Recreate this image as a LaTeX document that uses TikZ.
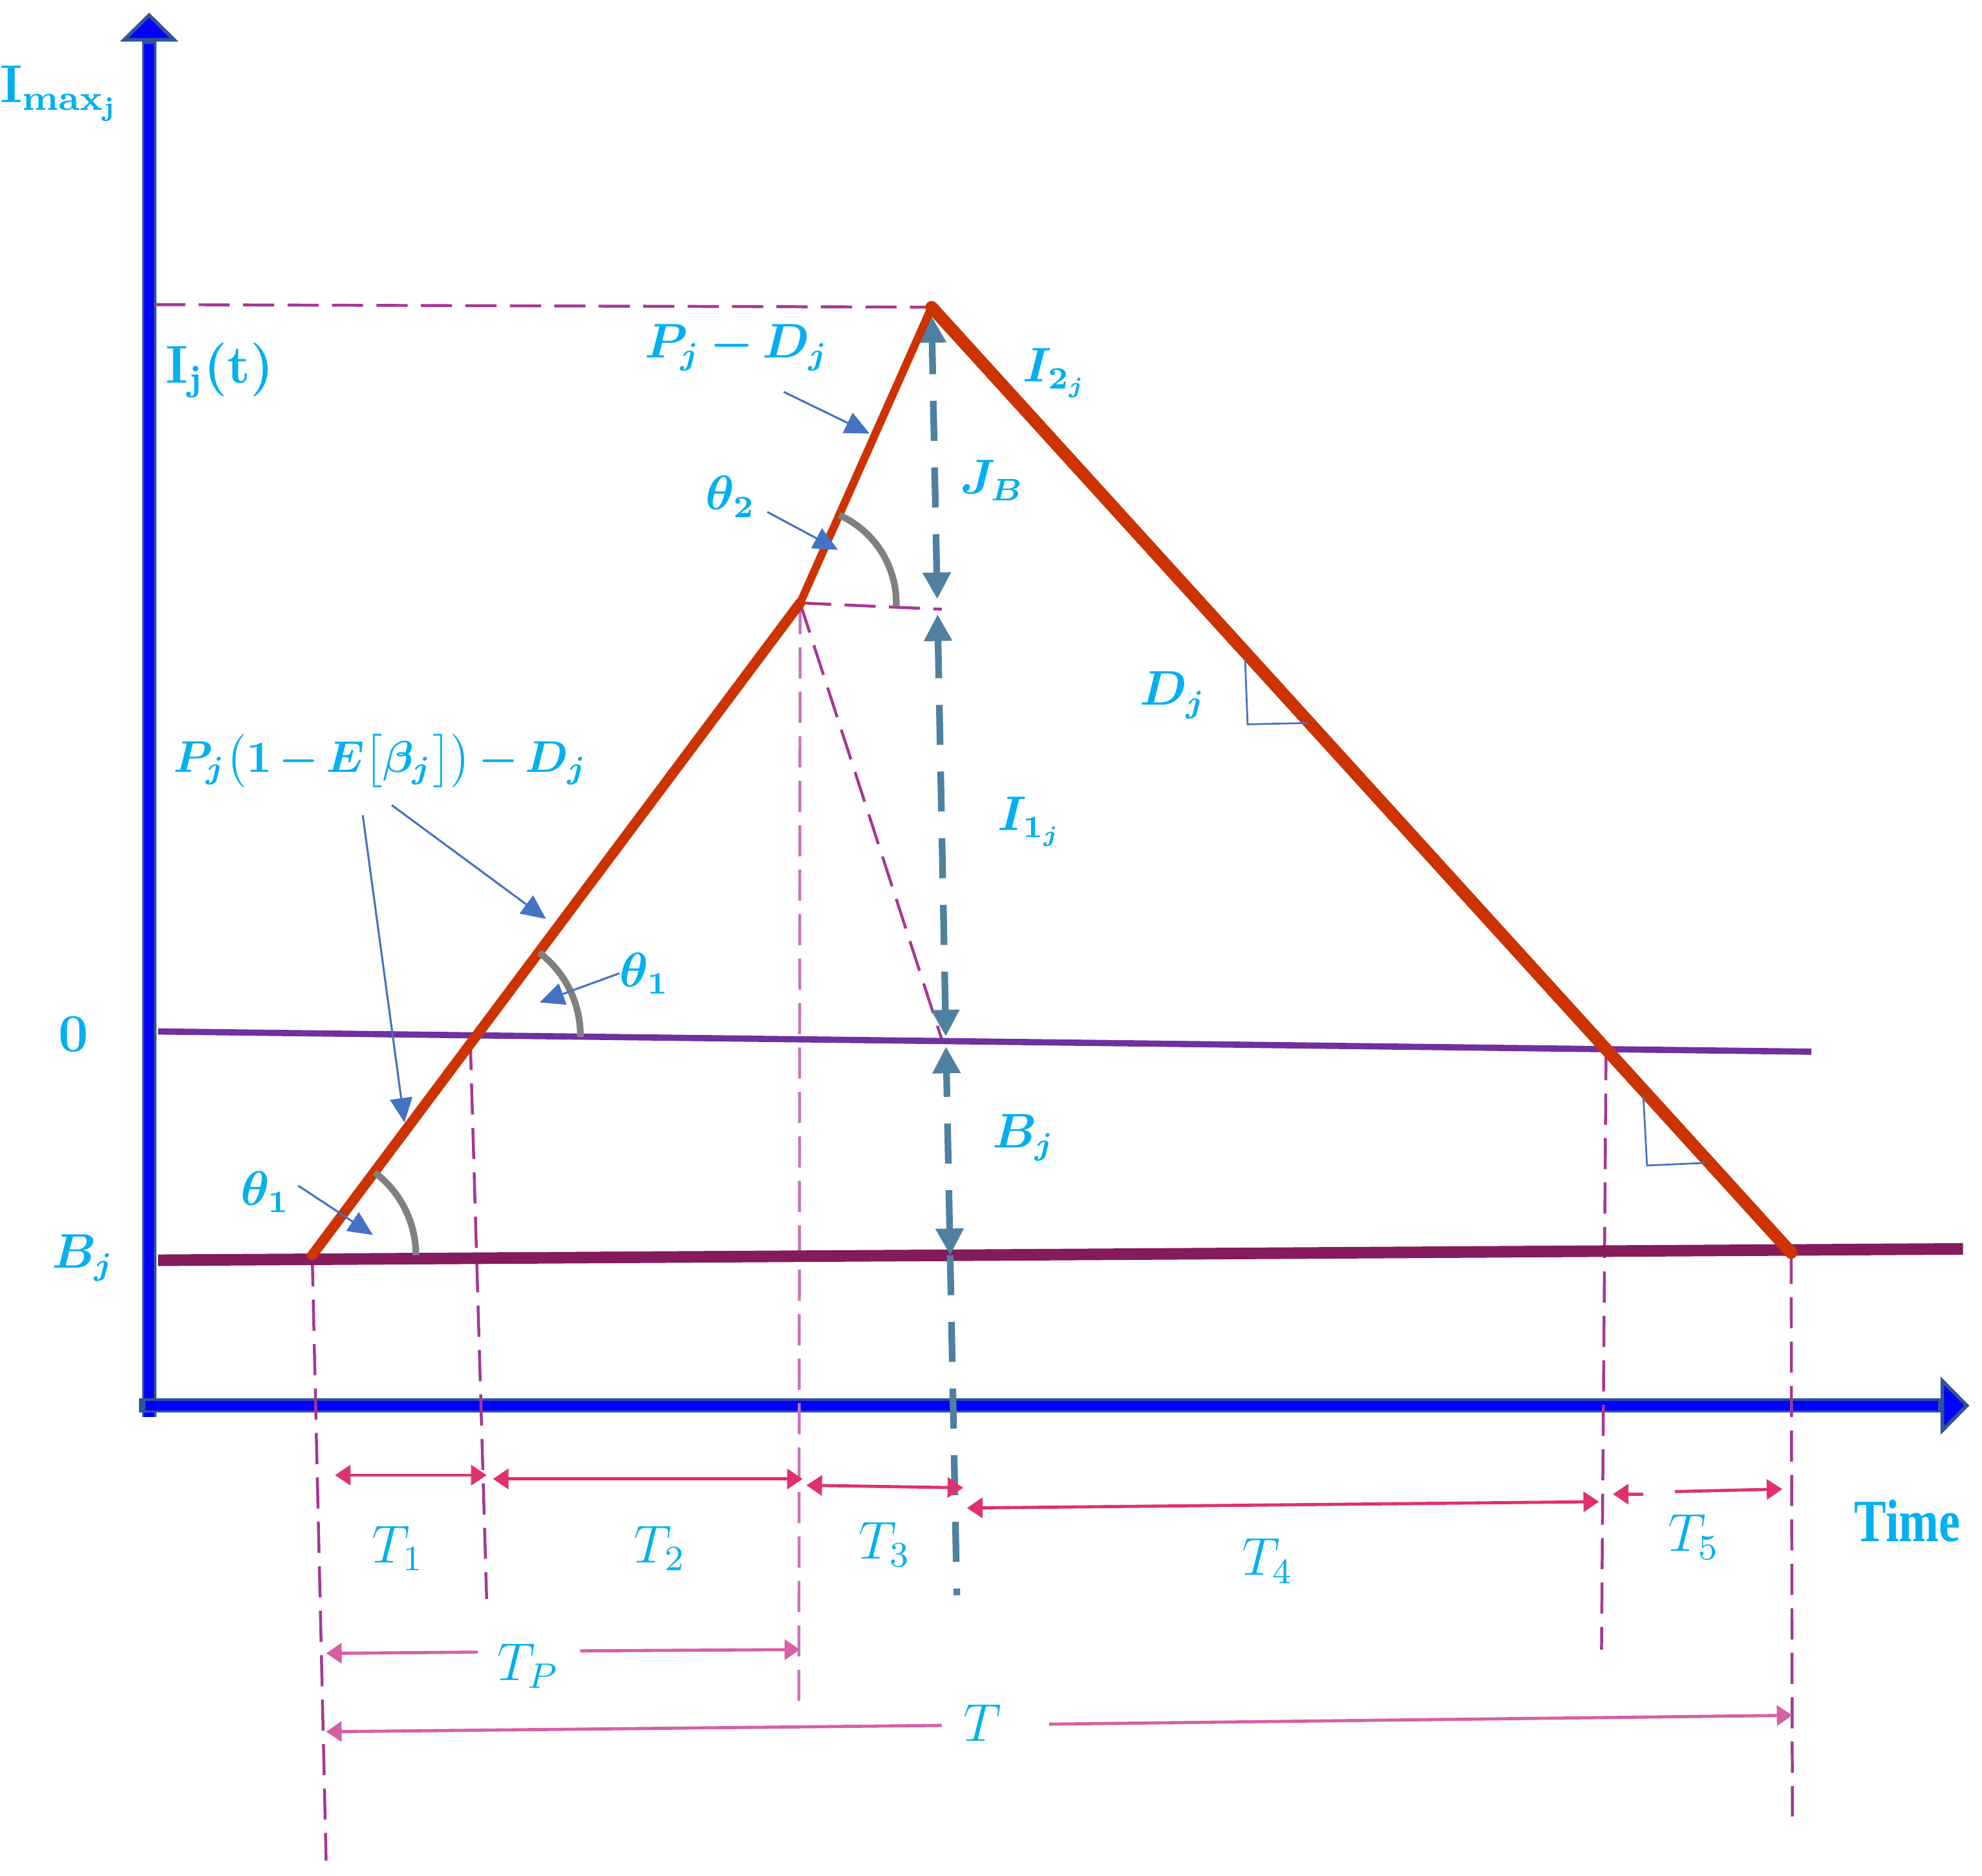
\documentclass[tikz,border=0pt]{standalone}
\usepackage{fontspec}
\newfontfamily\timesf{Liberation Serif}
\usetikzlibrary{arrows.meta,intersections,calc}
\definecolor{axblue}{RGB}{0,0,255}
\definecolor{axedge}{RGB}{47,85,151}
\definecolor{redline}{RGB}{204,51,0}
\definecolor{zeroline}{RGB}{112,48,160}
\definecolor{bjline}{RGB}{132,27,92}
\definecolor{magdash}{RGB}{165,55,150}
\definecolor{magdashl}{RGB}{200,115,190}
\definecolor{bgray}{RGB}{80,128,160}
\definecolor{dimpink}{RGB}{224,48,110}
\definecolor{dimpinkl}{RGB}{215,95,165}
\definecolor{lbl}{RGB}{0,176,240}
\definecolor{annot}{RGB}{68,114,196}
\definecolor{arcgray}{RGB}{128,128,128}
\begin{document}
\begin{tikzpicture}[x=0.01cm,y=-0.01cm,
  axisln/.style={line width=3.2pt,axedge},
  axisin/.style={line width=2.2pt,axblue},
  axtip/.style={-{Triangle[width=13pt,length=6.5pt,fill=axblue,line width=0.8pt]}},
  redln/.style={line width=#1,redline,line cap=round,line join=round},
  magd/.style={line width=0.65pt,magdash,dash pattern=on 7pt off 3pt},
  magdl/.style={line width=0.65pt,magdashl,dash pattern=on 7pt off 3pt},
  bgd/.style={line width=1.5pt,bgray,dash pattern=on 9pt off 6pt},
  bgarr/.style={bgd,{Triangle[width=6pt,length=6pt]}-{Triangle[width=6pt,length=6pt]}},
  dimarr/.style={line width=0.7pt,#1,{Triangle[width=4.5pt,length=3.5pt]}-{Triangle[width=4.5pt,length=3.5pt]}},
  dimhalfl/.style={line width=0.7pt,#1,{Triangle[width=4.5pt,length=3.5pt]}-},
  dimhalfr/.style={line width=0.7pt,#1,-{Triangle[width=4.5pt,length=3.5pt]}},
  annarr/.style={line width=0.45pt,annot,-{Triangle[width=5pt,length=5.5pt]}},
  arcst/.style={line width=1.5pt,arcgray},
  rtri/.style={line width=0.4pt,annot},
  lab/.style={text=lbl,font=\fontsize{10.5}{13}\selectfont\boldmath\bfseries,inner sep=0pt},
  labT/.style={text=lbl,font=\fontsize{11.5}{14}\selectfont,inner sep=0pt},
]
\useasboundingbox (0,0) rectangle (1568,1484);

% key points
\coordinate (S) at (247,993);
\coordinate (K) at (633,477);
\coordinate (P) at (737,243);
\coordinate (E) at (1417,991);
\coordinate (Z1) at (125,816);
\coordinate (Z2) at (1433,832);
\coordinate (B1) at (125,997);
\coordinate (B2) at (1553,988);
\path[name path=up] (S) -- (K);
\path[name path=dn] (P) -- (E);
\path[name path=zero] (Z1) -- (Z2);
\path[name intersections={of=up and zero,by=A}];
\path[name intersections={of=dn and zero,by=Bx}];

% axes
\coordinate (Yb) at (118,1121);
\coordinate (Yt) at (118,10);
\coordinate (Xl) at (110,1112);
\coordinate (Xr) at (1558,1112);
\draw[axisln,axtip] (Yb) -- (Yt);
\draw[axisin,shorten >=7pt] (Yb) -- (Yt);
\draw[axisln,axtip] (Xl) -- (Xr);
\draw[axisin,shorten >=7pt,shorten <=1.5pt] (Xl) -- (Xr);

% Imax dashed
\coordinate (Im) at (122,241);
\draw[magd] (Im) -- (P);

% vertical magenta dashed lines
\coordinate (V1b) at (258,1472);
\coordinate (V2t) at (372,822);
\coordinate (V2b) at (385,1265);
\coordinate (V3b) at (632,1350);
\coordinate (V4b) at (1267,1305);
\coordinate (V5b) at (1418,1437);
\draw[magd] (S) -- (V1b);
\draw[magd] (V2t) -- (V2b);
\draw[magdl] (K) -- (V3b);
\draw[magd] (Bx) -- (V4b);
\draw[magd] (E) -- (V5b);

% kink dashed lines
\coordinate (Kh) at (745,482);
\coordinate (Kd) at (745,822);
\draw[magd] (K) -- (Kh);
\draw[magd] (K) -- (Kd);

% horizontal levels
\draw[line width=1.4pt,zeroline] (Z1) -- (Z2);
\draw[line width=2.6pt,bjline] (B1) -- (B2);

% blue-gray vertical dashed arrows
\coordinate (J1) at (737,250);
\coordinate (J2) at (741.5,474);
\coordinate (I1) at (741.7,486);
\coordinate (I2) at (748.3,820);
\coordinate (Q1) at (748.4,828);
\coordinate (Q2) at (751.7,993);
\coordinate (Q3) at (757,1262);
\draw[bgarr] (J2) -- (J1);
\draw[bgarr] (I2) -- (I1);
\draw[bgarr] (Q2) -- (Q1);
\draw[bgd] (Q2) -- (Q3);

% red inventory curve
\draw[redln=2.3pt] (S) -- (K);
\draw[redln=1.8pt] (K) -- (P);
\draw[redln=2.8pt] (P) -- (E);

% angle arcs
\draw[arcst] ($(K)+(66:0.76cm)$) arc[start angle=66,end angle=-2,radius=0.76cm];
\draw[arcst] ($(A)+(53:0.82cm)$) arc[start angle=53,end angle=-1,radius=0.82cm];
\draw[arcst] ($(S)+(53:0.82cm)$) arc[start angle=53,end angle=0,radius=0.82cm];

% right-angle marks
\coordinate (R1a) at (985,521);
\coordinate (R1b) at (987,573);
\coordinate (R1c) at (1034,572);
\draw[rtri] (R1a) -- (R1b) -- (R1c);
\coordinate (R2a) at (1300,866);
\coordinate (R2b) at (1303,922);
\coordinate (R2c) at (1349,920);
\draw[rtri] (R2a) -- (R2b) -- (R2c);

% annotation arrows
\coordinate (a1s) at (620,310); \coordinate (a1e) at (688,343);
\coordinate (a2s) at (607,405); \coordinate (a2e) at (663,435);
\coordinate (a3s) at (310,637); \coordinate (a3e) at (432,727);
\coordinate (a4s) at (287,645); \coordinate (a4e) at (320,888);
\coordinate (a5s) at (490,770); \coordinate (a5e) at (427,793);
\coordinate (a6s) at (236,938); \coordinate (a6e) at (295,977);
\draw[annarr] (a1s) -- (a1e);
\draw[annarr] (a2s) -- (a2e);
\draw[annarr] (a3s) -- (a3e);
\draw[annarr] (a4s) -- (a4e);
\draw[annarr] (a5s) -- (a5e);
\draw[annarr] (a6s) -- (a6e);

% dimension arrows
\coordinate (d1a) at (265,1167); \coordinate (d1b) at (385,1167);
\coordinate (d2a) at (390,1170); \coordinate (d2b) at (635,1170);
\coordinate (d3a) at (638,1175); \coordinate (d3b) at (762,1177);
\coordinate (d4a) at (765,1193); \coordinate (d4b) at (1265,1188);
\draw[dimarr=dimpink] (d1a) -- (d1b);
\draw[dimarr=dimpink] (d2a) -- (d2b);
\draw[dimarr=dimpink] (d3a) -- (d3b);
\draw[dimarr=dimpink] (d4a) -- (d4b);
\coordinate (d5a) at (1276,1182); \coordinate (d5g1) at (1300,1182);
\coordinate (d5g2) at (1325,1180); \coordinate (d5b) at (1410,1178);
\draw[dimhalfl=dimpink] (d5a) -- (d5g1);
\draw[dimhalfr=dimpink] (d5g2) -- (d5b);
\coordinate (dpa) at (258,1308); \coordinate (dpg1) at (378,1307);
\coordinate (dpg2) at (459,1306); \coordinate (dpb) at (633,1305);
\draw[dimhalfl=dimpinkl] (dpa) -- (dpg1);
\draw[dimhalfr=dimpinkl] (dpg2) -- (dpb);
\coordinate (dta) at (258,1370); \coordinate (dtg1) at (745,1365);
\coordinate (dtg2) at (830,1364); \coordinate (dtb) at (1418,1357);
\draw[dimhalfl=dimpinkl] (dta) -- (dtg1);
\draw[dimhalfr=dimpinkl] (dtg2) -- (dtb);

% labels
\node[lab] (lImax) at (47,74) {\fontsize{12}{14}\selectfont I$_{\mathbf{max}_{\mathbf{j}}}$};
\node[lab] (lIjt) at (174,293) {\fontsize{12}{14}\selectfont I$_{\mathbf{j}}$(t)};
\node[lab] (lzero) at (58,818) {\fontsize{12}{14}\selectfont 0};
\node[lab] (lBjL) at (66,995) {$B_j$};
\node[lab] (lPD) at (583,275) {$\medmuskip=3mu P_j-D_j$};
\node[lab] (lth2) at (578,393) {$\theta_2$};
\node[lab] (lJB) at (785,380) {$J_B$};
\node[lab] (lI2) at (835,295) {$I_{2_j}$};
\node[lab] (lDj) at (928,550) {$D_j$};
\node[lab] (lI1) at (815,650) {$I_{1_j}$};
\node[lab] (lBjM) at (810,900) {$B_j$};
\node[lab,font=\fontsize{10}{12}\selectfont\boldmath] (lbig) at (301,602) {$\medmuskip=2.5mu P_j\bigl(1-E\bigl[\beta_j\bigr]\bigr)-D_j$};
\node[lab] (lth1a) at (510,770) {$\theta_1$};
\node[lab] (lth1b) at (210,943) {$\theta_1$};
\node[labT] (lT1) at (315,1225) {$T_1$};
\node[labT] (lT2) at (522,1225) {$T_2$};
\node[labT] (lT3) at (700,1222) {$T_3$};
\node[labT] (lT4) at (1003,1235) {$T_4$};
\node[labT] (lT5) at (1340,1216) {$T_5$};
\node[labT] (lTp) at (418,1318) {$T_P$};
\node[labT] (lT) at (777,1363) {$T$};
\node[labT,font=\fontsize{13.5}{16}\selectfont\timesf\bfseries] (lTime) at (1509,1203) {\scalebox{0.8}[1]{Time}};
\end{tikzpicture}
\end{document}
